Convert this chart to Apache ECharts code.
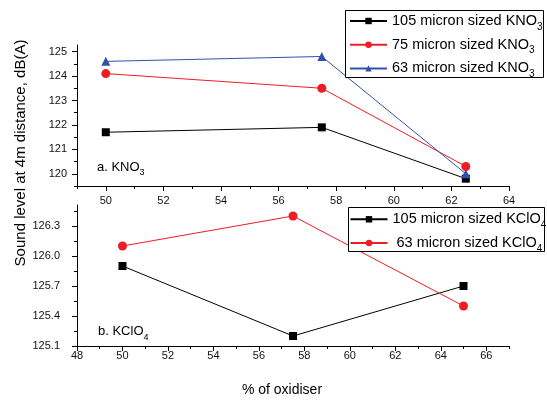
<!DOCTYPE html>
<html>
<head>
<meta charset="utf-8">
<script src="https://cdn.jsdelivr.net/npm/echarts@6/dist/echarts.min.js"></script>
<style>html,body{margin:0;padding:0;background:#fff}#c{width:547px;height:401px}</style>
</head>
<body>
<div id="c"></div>
<script>
// ---- data ----
const kno3X = [50, 57.5, 62.5];
const kno3_105 = [121.7, 121.9, 119.8];
const kno3_75 = [124.1, 123.5, 120.3];
const kno3_63 = [124.6, 124.8, 120.0];
const kclo4X = [50, 57.5, 65];
const kclo4_105 = [125.9, 125.2, 125.7];
const kclo4_63 = [126.1, 126.4, 125.5];

const kno3Names = ['105 micron sized KNO3', '75 micron sized KNO3', '63 micron sized KNO3'];
const kclo4Names = ['105 micron sized KClO4', ' 63 micron sized KClO4'];

// tick values
const topXTicks = [50, 52, 54, 56, 58, 60, 62, 64];
const topXMinor = [49, 51, 53, 55, 57, 59, 61, 63];
const topYTicks = [120, 121, 122, 123, 124, 125];
const topYMinor = [119.5, 120.5, 121.5, 122.5, 123.5, 124.5];
const botXTicks = [48, 50, 52, 54, 56, 58, 60, 62, 64, 66];
const botXMinor = [49, 51, 53, 55, 57, 59, 61, 63, 65, 67];
const botYTicks = [125.1, 125.4, 125.7, 126.0, 126.3];
const botYMinor = [125.25, 125.55, 125.85, 126.15, 126.45];

const xTitle = '% of oxidiser';
const yTitle = 'Sound level at 4m distance, dB(A)';
const labelA = ['a. KNO', '3'];
const labelB = ['b. KClO', '4'];

const BLACK = '#000000', RED = '#ee1c24', BLUE = '#3550aa';
const FONT = 'Liberation Sans, Arial, sans-serif';

function pairs(xs, ys) { return xs.map((x, i) => [x, ys[i]]); }

function mainAxis(grid, pos, min, max, ticks, labelMargin, fmt) {
  return {
    type: 'value', gridIndex: grid, position: pos, min: min, max: max,
    axisLine: { show: true, onZero: false, lineStyle: { color: '#000', width: 1 } },
    axisTick: { show: true, customValues: ticks, length: 5, inside: false, lineStyle: { color: '#000', width: 1 } },
    axisLabel: { show: true, customValues: ticks, color: '#111', fontSize: 11, fontFamily: FONT, margin: labelMargin, formatter: fmt },
    splitLine: { show: false }, minorTick: { show: false }
  };
}
function minorAxis(grid, pos, min, max, ticks) {
  return {
    type: 'value', gridIndex: grid, position: pos, offset: 0, min: min, max: max,
    axisLine: { show: false, onZero: false },
    axisTick: { show: true, customValues: ticks, length: 3, inside: false, lineStyle: { color: '#000', width: 1 } },
    axisLabel: { show: false },
    splitLine: { show: false }
  };
}

function richSub(mainSize, subSize) {
  return {
    m: { fontSize: mainSize, fontFamily: FONT, color: '#000', lineHeight: 20 },
    s: { fontSize: subSize, fontFamily: FONT, color: '#000', lineHeight: 8, padding: [12, 0, 0, 0] }
  };
}
function subFmt(name) {
  const m = name.match(/^(.*?)(\d)$/);
  return '{m|' + m[1] + '}{s|' + m[2] + '}';
}

function lineSeries(name, xs, ys, color, symbol, size, xi, yi) {
  return {
    type: 'line', name: name, data: pairs(xs, ys), xAxisIndex: xi, yAxisIndex: yi,
    symbol: symbol, symbolSize: size, showSymbol: true,
    lineStyle: { color: color, width: 1 }, itemStyle: { color: color },
    emphasis: { disabled: true }, animation: false
  };
}

function legendCfg(names, left, top) {
  return {
    data: names, orient: 'vertical', left: left, top: top,
    itemWidth: 37, itemHeight: 8, itemGap: 1.7, padding: 0,
    borderWidth: 0, backgroundColor: 'transparent',
    formatter: subFmt,
    textStyle: { fontSize: 14.5, fontFamily: FONT, color: '#000', rich: richSub(14.5, 10) },
    selectedMode: false
  };
}

const chart = echarts.init(document.getElementById('c'), null, { renderer: 'canvas' });
chart.setOption({
  animation: false,
  backgroundColor: '#fff',
  grid: [
    { left: 77, right: 38, top: 45, height: 141 },
    { left: 77, right: 38, top: 205, height: 141 }
  ],
  xAxis: [
    mainAxis(0, 'bottom', 49, 64, topXTicks, 9, v => String(v)),
    minorAxis(0, 'bottom', 49, 64, topXMinor),
    mainAxis(1, 'bottom', 48, 67, botXTicks, 4, v => String(v)),
    minorAxis(1, 'bottom', 48, 67, botXMinor)
  ],
  yAxis: [
    mainAxis(0, 'left', 119.5, 125.27, topYTicks, 10, v => String(Math.round(v))),
    minorAxis(0, 'left', 119.5, 125.27, topYMinor),
    mainAxis(1, 'left', 125.1, 126.51, botYTicks, 17, v => v.toFixed(1)),
    minorAxis(1, 'left', 125.1, 126.51, botYMinor)
  ],
  legend: [
    legendCfg(kno3Names, 349, 10),
    legendCfg(kclo4Names, 349.5, 208.3)
  ],
  graphic: [
    {
      type: 'rect', z: 3.5, shape: { x: 345.5, y: 10.5, width: 198, height: 67 },
      style: { fill: '#fff', stroke: '#000', lineWidth: 1 }
    },
    {
      type: 'rect', z: 3.5, shape: { x: 348.5, y: 207.5, width: 196, height: 44 },
      style: { fill: '#fff', stroke: '#000', lineWidth: 1 }
    },
    {
      type: 'text', x: 21, y: 153, rotation: Math.PI / 2,
      style: { text: yTitle, font: '15px ' + FONT, fill: '#000', textAlign: 'center', textVerticalAlign: 'middle', align: 'center', verticalAlign: 'middle' }
    },
    {
      type: 'text', x: 282, y: 390,
      style: { text: xTitle, font: '14px ' + FONT, fill: '#000', textAlign: 'center', textVerticalAlign: 'middle', align: 'center', verticalAlign: 'middle' }
    },
    {
      type: 'text', x: 97, y: 167,
      style: { text: '{m|' + labelA[0] + '}{s|' + labelA[1] + '}', font: '13px ' + FONT, fill: '#000', textVerticalAlign: 'middle', verticalAlign: 'middle', rich: richSub(13, 9) }
    },
    {
      type: 'text', x: 98, y: 331.5,
      style: { text: '{m|' + labelB[0] + '}{s|' + labelB[1] + '}', font: '13px ' + FONT, fill: '#000', textVerticalAlign: 'middle', verticalAlign: 'middle', rich: richSub(13, 9) }
    }
  ],
  series: [
    lineSeries(kno3Names[0], kno3X, kno3_105, BLACK, 'rect', 8, 0, 0),
    lineSeries(kno3Names[1], kno3X, kno3_75, RED, 'circle', 9, 0, 0),
    lineSeries(kno3Names[2], kno3X, kno3_63, BLUE, 'triangle', 9, 0, 0),
    lineSeries(kclo4Names[0], kclo4X, kclo4_105, BLACK, 'rect', 8, 2, 2),
    lineSeries(kclo4Names[1], kclo4X, kclo4_63, RED, 'circle', 9, 2, 2)
  ]
});
</script>
</body>
</html>
